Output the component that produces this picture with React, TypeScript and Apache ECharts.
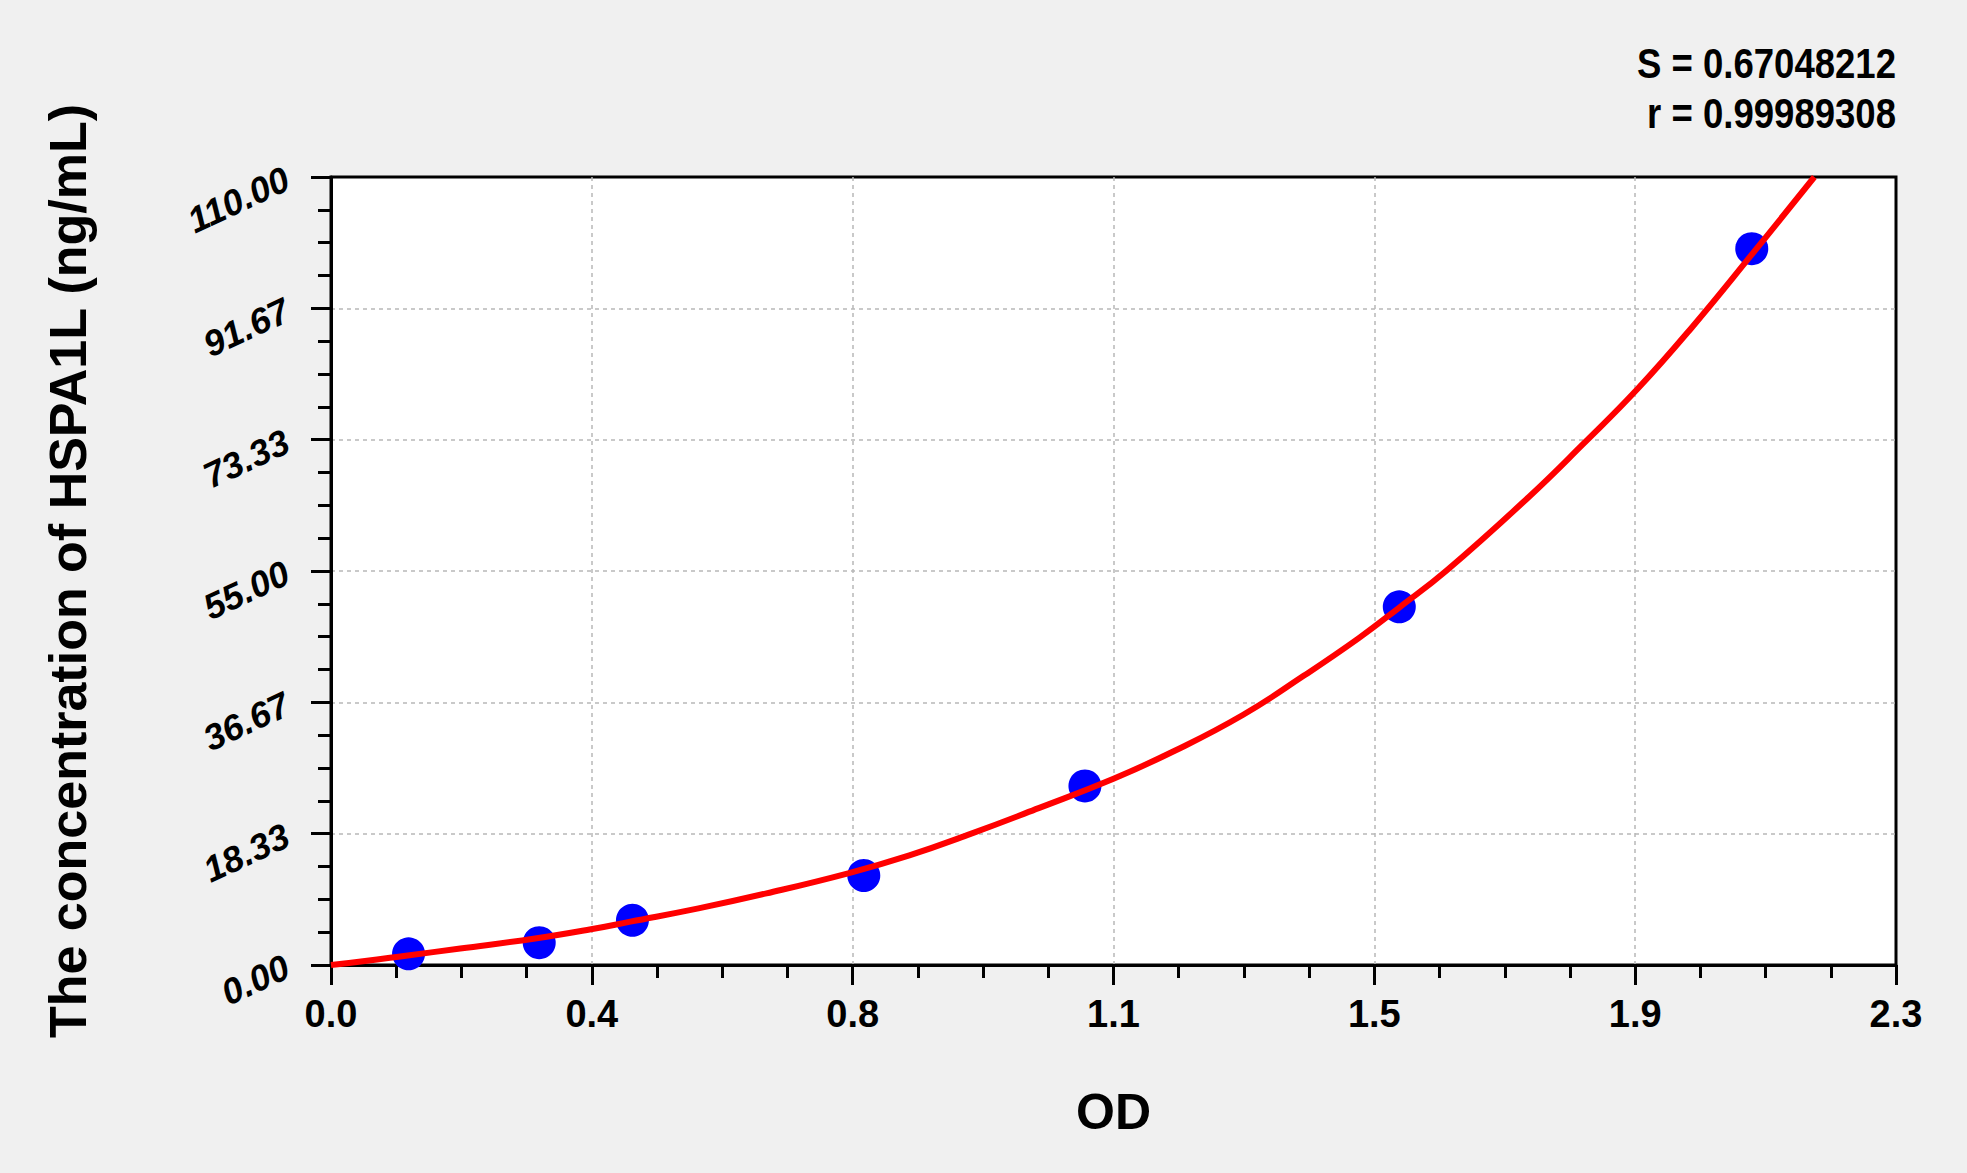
import * as echarts from 'echarts';
import React, { useEffect, useRef } from 'react';

// standards: OD reading vs concentration (ng/mL)
const odValues = [0.114, 0.306, 0.443, 0.783, 1.108, 1.57, 2.088];
const concValues = [1.56, 3.12, 6.25, 12.5, 25, 50, 100];

// fitted curve
const curveOd = [
  0, 0.05, 0.11, 0.19, 0.3, 0.38, 0.44, 0.54, 0.64, 0.76, 0.85, 0.94, 1.04, 1.15, 1.24,
  1.34, 1.43, 1.51, 1.57, 1.64, 1.76, 1.84, 1.92, 2.0, 2.09, 2.18,
];
const curveConc = [
  0, 0.55, 1.3, 2.3, 3.7, 4.95, 6.05, 7.9, 10.0, 12.8, 15.3, 18.3, 21.9, 26.0, 29.9, 34.9,
  40.4, 45.6, 49.9, 55.1, 65.3, 72.7, 80.4, 89.0, 99.4, 110,
];

const xTickLabels = ['0.0', '0.4', '0.8', '1.1', '1.5', '1.9', '2.3'];
const yTickLabels = ['0.00', '18.33', '36.67', '55.00', '73.33', '91.67', '110.00'];
const statLines = ['S = 0.67048212', 'r = 0.99989308'];

const X_MAX = 2.3;
const Y_MAX = 110;
const FONT = '"Liberation Sans", Arial, sans-serif';

const App: React.FC = () => {
  const chartRef = useRef<HTMLDivElement>(null);

  useEffect(() => {
    if (!chartRef.current) return;
    const chart = echarts.init(chartRef.current, undefined, { renderer: 'svg' });

    // a hair over max/6 so the last tick is the axis max itself (no extra grid line on the frame)
    const xInterval = X_MAX / 6 + 1e-12;
    const yInterval = Y_MAX / 6 + 1e-12;

    const tickStyle = { color: '#000', width: 3 };
    const gridLine = { color: '#b8b8b8', width: 1.5, type: [4, 4] as number[] };

    const option: echarts.EChartsOption = {
      animation: false,
      backgroundColor: '#f0f0f0',
      textStyle: { fontFamily: FONT },
      grid: {
        left: 331,
        top: 177,
        right: 71,
        bottom: 208,
        show: true,
        backgroundColor: '#fff',
        borderColor: '#000',
        borderWidth: 3,
      },
      // the fit statistics, in a narrow bold face
      graphic: statLines.map((t, i) => ({
        type: 'text',
        x: 1896,
        y: 63 + i * 50,
        scaleX: 0.87,
        z: 10,
        style: {
          text: t,
          fill: '#000',
          font: `bold 42px ${FONT}`,
          align: 'right',
          verticalAlign: 'middle',
        },
      })),
      xAxis: {
        type: 'value',
        min: 0,
        max: X_MAX,
        interval: xInterval,
        name: 'OD',
        nameLocation: 'middle',
        nameGap: 122,
        nameTextStyle: { fontSize: 50, fontWeight: 'bold', color: '#000', fontFamily: FONT },
        axisLine: { show: true, lineStyle: { color: '#000', width: 3 } },
        axisTick: { show: true, length: 20, lineStyle: tickStyle },
        minorTick: { show: true, splitNumber: 4, length: 13, lineStyle: tickStyle },
        splitLine: { show: true, showMinLine: false, showMaxLine: false, lineStyle: gridLine },
        axisLabel: {
          margin: 30,
          fontSize: 38,
          fontWeight: 'bold',
          color: '#000',
          fontFamily: FONT,
          showMaxLabel: true,
          formatter: (v: number) => xTickLabels[Math.round(v / xInterval)] ?? '',
        },
      },
      yAxis: {
        type: 'value',
        min: 0,
        max: Y_MAX,
        interval: yInterval,
        name: 'The concentration of HSPA1L (ng/mL)',
        nameLocation: 'middle',
        nameGap: 237,
        nameTextStyle: { fontSize: 52, fontWeight: 'bold', color: '#000', fontFamily: FONT },
        axisLine: { show: true, lineStyle: { color: '#000', width: 3 } },
        axisTick: { show: true, length: 20, lineStyle: tickStyle },
        minorTick: { show: true, splitNumber: 4, length: 13, lineStyle: tickStyle },
        splitLine: { show: true, showMinLine: false, showMaxLine: false, lineStyle: gridLine },
        axisLabel: {
          margin: 44,
          rotate: 25,
          fontSize: 36,
          fontWeight: 'bold',
          fontStyle: 'italic',
          color: '#000',
          fontFamily: FONT,
          showMaxLabel: true,
          formatter: (v: number) => yTickLabels[Math.round(v / yInterval)] ?? '',
        },
      },
      series: [
        {
          name: 'standards',
          type: 'scatter',
          symbol: 'circle',
          symbolSize: 33,
          itemStyle: { color: '#0000ff', opacity: 1 },
          data: odValues.map((od, i) => [od, concValues[i]]),
          z: 2,
        },
        {
          name: 'fit',
          type: 'line',
          showSymbol: false,
          smooth: 0.45,
          lineStyle: { color: '#ff0000', width: 6 },
          data: curveOd.map((od, i) => [od, curveConc[i]]),
          z: 3,
        },
      ],
    };

    chart.setOption(option);

    const handleResize = () => chart.resize();
    window.addEventListener('resize', handleResize);
    return () => {
      window.removeEventListener('resize', handleResize);
      chart.dispose();
    };
  }, []);

  return (
    <div
      ref={chartRef}
      style={{ position: 'absolute', left: 0, top: 0, width: 1967, height: 1173 }}
    />
  );
};

export default App;
